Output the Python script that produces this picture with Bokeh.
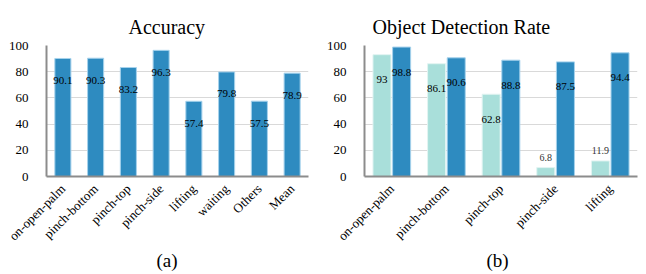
import math
from bokeh.plotting import figure
from bokeh.layouts import row
from bokeh.models import ColumnDataSource, Legend, LegendItem, FixedTicker, FactorRange, Range1d, Title
from bokeh.transform import dodge
from bokeh.core.properties import value
from bokeh.embed import file_html
from bokeh.resources import INLINE

# ---- data ----
acc_cats = ["on-open-palm", "pinch-bottom", "pinch-top", "pinch-side",
            "lifting", "waiting", "Others", "Mean"]
acc_vals = [90.1, 90.3, 83.2, 96.3, 57.4, 79.8, 57.5, 78.9]

det_cats = ["on-open-palm", "pinch-bottom", "pinch-top", "pinch-side", "lifting"]
posecnn_vals = [93, 86.1, 62.8, 6.8, 11.9]
ours_vals = [98.8, 90.6, 88.8, 87.5, 94.4]

y_ticks = [0, 20, 40, 60, 80, 100]

FONT = "Liberation Serif"
DARK = "#2E8BC0"
DARK_EDGE = "#A6D2EC"
LIGHT = "#A9DFDA"
LIGHT_EDGE = "#E2F4F2"
AXIS_GRAY = "#8C8C8C"
GRID_GRAY = "#D9D9D9"


def style(p, sub_label, sub_offset):
    p.title.text_font = FONT
    p.title.text_font_size = "20px"
    p.title.text_font_style = "normal"
    p.title.text_color = "#000000"
    p.title.align = "left"
    p.title.standoff = 16
    p.outline_line_color = None
    p.xgrid.grid_line_color = None
    p.ygrid.grid_line_color = GRID_GRAY
    p.ygrid.grid_line_width = 1
    p.yaxis.ticker = FixedTicker(ticks=y_ticks)
    p.yaxis.major_tick_line_color = None
    p.yaxis.minor_tick_line_color = None
    p.yaxis.axis_line_color = AXIS_GRAY
    p.yaxis.axis_line_width = 2
    p.yaxis.major_label_text_font = FONT
    p.yaxis.major_label_text_font_size = "13px"
    p.yaxis.major_label_text_color = "#000000"
    p.yaxis.major_label_standoff = 12
    p.xaxis.major_tick_line_color = None
    p.xaxis.minor_tick_line_color = None
    p.xaxis.axis_line_color = AXIS_GRAY
    p.xaxis.axis_line_width = 2
    p.xaxis.major_label_orientation = math.pi / 4
    p.xaxis.major_label_text_font = FONT
    p.xaxis.major_label_text_font_size = "13px"
    p.xaxis.major_label_text_color = "#000000"
    p.xaxis.major_label_standoff = 4
    p.background_fill_color = None
    p.border_fill_color = None
    sub = Title(text=sub_label, align="left", offset=sub_offset,
                text_font=FONT, text_font_size="19px", text_font_style="normal",
                text_color="#000000")
    try:
        sub.standoff = -8
    except Exception:
        sub.standoff = 0
    p.add_layout(sub, "below")


# ---- left: Accuracy ----
p1 = figure(frame_width=262, frame_height=131, x_range=FactorRange(*acc_cats),
            y_range=Range1d(0, 100), title="Accuracy",
            output_backend="svg", toolbar_location=None,
            min_border_left=46, min_border_right=15,
            min_border_top=45, min_border_bottom=97)
style(p1, "(a)", 110)
p1.title.offset = 82
src1 = ColumnDataSource(dict(x=acc_cats, y=acc_vals, t=[str(v) for v in acc_vals]))
p1.vbar(x="x", top="y", width=0.49, source=src1, fill_color=DARK,
        line_color=DARK_EDGE, line_width=1)
p1.text(x="x", y="y", text="t", source=src1, y_offset=22,
        text_align="center", text_baseline="middle",
        text_font=value(FONT), text_font_size="11px", text_color="#000000")

# ---- right: Object Detection Rate ----
p2 = figure(frame_width=273, frame_height=131, x_range=FactorRange(*det_cats),
            y_range=Range1d(0, 100), title="Object Detection Rate",
            output_backend="svg", toolbar_location=None,
            min_border_left=37, min_border_right=5,
            min_border_top=45, min_border_bottom=97)
style(p2, "(b)", 122)
p2.title.offset = 8
src2 = ColumnDataSource(dict(x=det_cats, a=posecnn_vals, b=ours_vals))
r_a = p2.vbar(x=dodge("x", -0.18, range=p2.x_range), top="a", width=0.33,
              source=src2, fill_color=LIGHT, line_color=LIGHT_EDGE, line_width=1)
r_b = p2.vbar(x=dodge("x", 0.18, range=p2.x_range), top="b", width=0.33,
              source=src2, fill_color=DARK, line_color=DARK_EDGE, line_width=1)

# labels: inside the bar when tall enough, above it otherwise
series = [(posecnn_vals, -0.18), (ours_vals, 0.18)]
for vals, off in series:
    inside = [(c, v) for c, v in zip(det_cats, vals) if v >= 30]
    above = [(c, v) for c, v in zip(det_cats, vals) if v < 30]
    if inside:
        s = ColumnDataSource(dict(x=[c for c, _ in inside], y=[v for _, v in inside],
                                  t=[f"{v:g}" for _, v in inside]))
        p2.text(x=dodge("x", off, range=p2.x_range), y="y", text="t", source=s,
                y_offset=25, text_align="center", text_baseline="middle",
                text_font=value(FONT), text_font_size="11px", text_color="#000000")
    if above:
        s = ColumnDataSource(dict(x=[c for c, _ in above], y=[v for _, v in above],
                                  t=[f"{v:g}" for _, v in above]))
        p2.text(x=dodge("x", off, range=p2.x_range), y="y", text="t", source=s,
                y_offset=-10, text_align="center", text_baseline="middle",
                text_font=value(FONT), text_font_size="10px", text_color="#333333")

legend = Legend(items=[LegendItem(label="PoseCNN", renderers=[r_a]),
                       LegendItem(label="Ours", renderers=[r_b])],
                location=(211, 132), orientation="vertical",
                glyph_width=7, glyph_height=7, label_height=21, label_standoff=1,
                padding=0, margin=0, spacing=0,
                border_line_alpha=0, background_fill_alpha=0,
                label_text_font=FONT, label_text_font_size="13.5px",
                label_text_color="#000000")
p2.add_layout(legend)

layout = row(p1, p2)
open("out.html", "w").write(file_html(layout, INLINE))
